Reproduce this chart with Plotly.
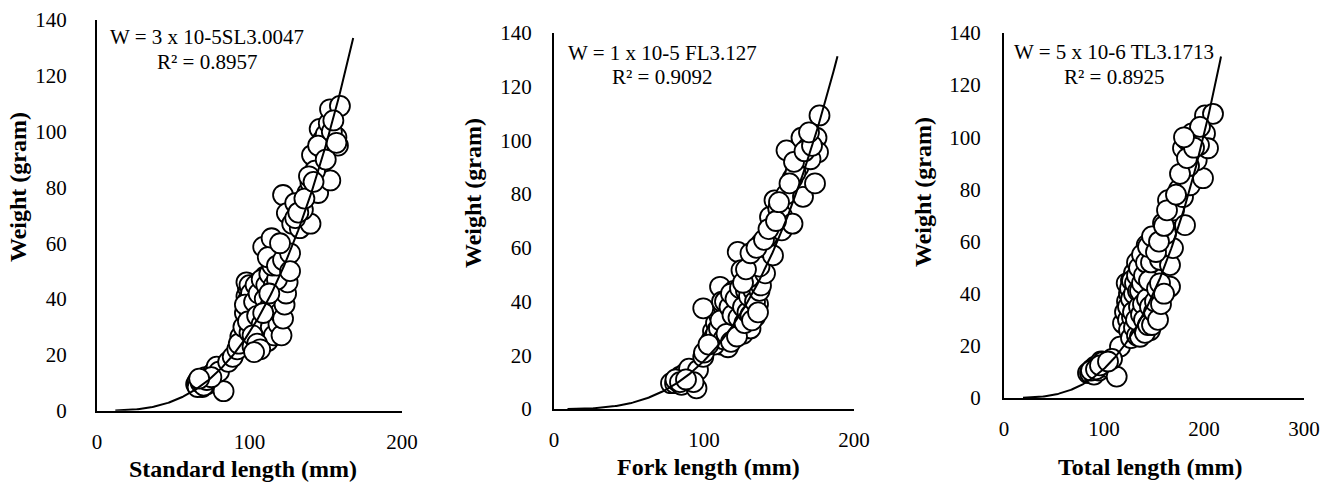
import numpy as np
import plotly.graph_objects as go

# ---------------- data ----------------
sl_len = [65, 66, 67, 68, 69, 70, 71, 72, 73, 74, 76, 78.5, 83, 80, 66, 68, 70, 72, 75, 67,
          86, 89, 92, 94, 93,
          96, 97, 98, 99, 99, 100, 100, 101, 102, 102, 103, 104, 104, 105, 106, 106, 107, 108,
          109, 109, 110, 110, 111, 112, 112, 113, 114, 115, 115.5, 116, 117, 117, 118, 119,
          120, 121, 122, 123, 124,
          98, 100, 101, 97, 99, 103, 104, 105, 106, 107, 108, 108, 110, 111, 111, 112, 113,
          114, 114, 116, 116, 118, 119, 120, 121, 122, 123, 124, 125, 118, 102, 105, 107, 103,
          109, 113, 115, 117, 119,
          109, 114.5, 112, 118, 122, 126.6, 126.6, 120,
          122, 124.5, 130, 128, 133, 140, 135, 138, 140, 145, 147.5, 153, 144, 141, 146, 148,
          150, 152, 155, 156, 158, 157, 152.8, 159.3, 149, 143,
          130, 132, 136, 139, 142, 145, 150, 154, 157, 155]
sl_wt = [9.5, 10.5, 9, 11, 8.5, 10, 12, 9.5, 11, 10.5, 13.4, 15.8, 7, 14, 8.5, 10, 9, 11, 12, 11.5,
         17.5, 19.3, 22, 26.5, 24,
         30, 35, 41, 44, 39.6, 33, 28, 37, 23, 31, 43, 26, 36, 40, 29, 46, 33, 38,
         24, 44, 31, 48, 27, 36, 42, 29, 46, 33, 33, 38, 42, 50, 29, 36,
         42.5, 47, 40, 45, 50,
         46, 45, 42, 38, 32, 39, 45, 34, 42, 27, 47, 31, 40, 35, 45, 25, 49,
         38, 30, 27, 45, 40, 31, 35, 27, 33, 38, 42, 46, 47, 27, 24, 22, 21,
         35, 42, 52, 56, 54,
         58.7, 61.8, 55, 52, 54, 56.4, 50, 60,
         77.3, 70.8, 74.4, 67, 65.4, 67, 72, 78, 81.6, 78, 84, 82.5, 88, 91.6, 101, 97,
         99, 103, 96, 96, 95, 98, 108, 109.2, 93, 86,
         69, 71, 76, 84, 82, 95, 90, 100, 96, 104]

fl_len = [78, 80.7, 82, 83, 84, 85, 86, 87.5, 89, 90, 95, 96, 99.5, 93, 81, 84, 88,
          105, 106, 107, 108, 109, 110, 110.7, 111, 112, 113, 114, 115, 116, 116, 117, 118,
          119, 120, 120, 121, 122, 123, 124, 125, 125, 126, 127, 128, 129, 130, 131, 132,
          133, 134, 135, 136, 99.5, 112,
          107, 108, 110, 111, 113, 114, 115, 117, 118, 118, 119, 121, 122, 123, 124, 126,
          127, 128, 129, 130, 131, 132, 133, 134, 136, 137, 138, 100, 103,
          122.5, 125, 130, 133, 138, 140.7, 137, 146, 142, 144, 147, 149.5, 151.8, 152, 159,
          155, 159, 163, 155, 165, 166, 169.5, 174, 175, 176, 177, 171, 161,
          126, 128, 131, 135, 140, 143, 148, 150, 157, 160, 167, 172, 170]
fl_wt = [9.6, 9.6, 11, 10, 12, 9, 11.5, 13.3, 12, 15, 7.7, 14.5, 19.4, 10, 11, 10, 11,
         25.7, 29, 27, 32, 29.4, 35, 45.5, 24, 31, 38, 27, 34, 23, 41, 30, 36,
         26, 44, 33, 29, 39, 42, 31, 43.6, 36, 28, 40, 33, 45, 37, 30, 41,
         38, 34.3, 42.4, 39, 37.5, 40,
         24, 28, 30, 33, 26, 40, 28, 38, 43, 25, 35, 41, 27, 34, 45, 38,
         32, 44, 36, 42, 35, 33, 44, 40, 36, 44, 46, 21, 24,
         58.5, 51.7, 49, 55, 61.6, 50.5, 53, 57.2, 64, 71.5, 77.7, 74.6, 66.5, 72, 69,
         80, 85.8, 90, 96.3, 101, 79, 97.5, 84, 101, 95.6, 109.3, 93, 88,
         47, 52, 58, 60, 63, 67, 70, 77, 84, 92, 96, 98, 103]

tl_len = [84, 86, 88, 90, 91, 93, 95, 97, 99, 101, 112.7, 116, 108, 87, 92, 96, 104,
          119, 122.7, 121, 123, 124, 125, 125, 126, 127, 127, 128, 129, 130, 130, 131, 132,
          133, 133, 134, 135, 136, 136, 137, 138, 139, 139, 140, 141, 142, 143, 144, 145,
          146, 147, 148, 149, 150, 152.7, 151, 155, 158, 166, 142.7, 149, 145,
          124, 126, 127, 128, 129, 130, 131, 132, 133, 134, 135, 135, 136, 137, 138, 138,
          139, 140, 140, 141, 142, 143, 144, 145, 146, 147, 148, 150, 151, 153, 154, 156,
          157, 160,
          156, 166, 169, 159, 162, 164, 167.7, 170, 181, 179, 175, 186, 199, 179, 182.7,
          188, 192.7, 185, 201, 204, 201, 209, 195,
          144, 148, 152, 155, 160, 163, 172, 176, 183, 190, 196, 180]
tl_wt = [9.6, 9.6, 11, 9, 12, 12, 10.5, 14, 13.9, 12, 8.2, 19.7, 15, 10.5, 11, 12.5, 14,
         28.7, 44, 33, 37, 30, 26, 40, 35, 23, 45, 31, 38, 27, 48, 34, 42,
         24, 52, 36, 30, 23.5, 46, 39, 33, 27, 50, 42, 36, 29, 47, 40, 33,
         26, 44, 37, 30, 40, 34.4, 46, 38, 42, 42.7, 58.6, 59.4, 54,
         35, 42, 38, 45, 33, 40, 44, 30, 47, 41, 35, 50, 41, 32, 44, 55,
         36, 47, 30, 25, 52, 38, 28, 45, 35, 52, 28, 33, 37, 42, 30, 44,
         36, 40,
         53, 51, 57.5, 67, 63, 75.9, 70.8, 72, 66.3, 77.1, 80, 81.6, 84.3, 95.8, 99,
         101.5, 91.2, 89, 101.5, 95.8, 108.4, 109, 97,
         58, 62, 56, 60, 66, 72, 78, 86, 92, 96, 104, 100]

# fitted power curves W = a * L^b (as drawn), length span of each trendline
fit_a = [2.75e-5, 1e-5, 5.1e-6]
fit_b = [3.0047, 3.127, 3.1713]
fit_span = [(12, 168), (9, 189), (19, 217)]

eq_line1 = ["W = 3 x 10-5SL3.0047", "W = 1 x 10-5 FL3.127", "W = 5 x 10-6 TL3.1713"]
eq_line2 = ["R² = 0.8957", "R² = 0.9092", "R² = 0.8925"]
x_titles = ["Standard length (mm)", "Fork length (mm)", "Total length (mm)"]
y_title = "Weight (gram)"
x_ranges = [(0, 200), (0, 200), (0, 300)]
y_range = (0, 140)

# ---------------- layout geometry (window pixels) ----------------
W_PX, H_PX = 1335, 486
boxes = [(97, 402, 410.7, 20), (554, 854, 409, 33), (1004, 1304, 398, 33)]
eq_x = [207, 662, 1114]
eq_y1 = [37, 53, 52]
eq_y2 = [62, 77, 77]
xtitle_pos = [(243, 469), (708, 467), (1150, 467)]
ytitle_x = [18, 473, 923]
ytitle_y = [187, 193, 192]
ylab_std = [24, 16, 17]

SERIF = "Liberation Serif, Times New Roman, serif"


def fx(x):
    return x / W_PX


def fy(y):
    return 1 - y / H_PX


fig = go.Figure()
data = [(sl_len, sl_wt), (fl_len, fl_wt), (tl_len, tl_wt)]

for i, (xs, ys) in enumerate(data):
    xa = "x" if i == 0 else f"x{i+1}"
    ya = "y" if i == 0 else f"y{i+1}"
    fig.add_trace(go.Scatter(
        x=xs, y=ys, mode="markers", xaxis=xa, yaxis=ya,
        marker=dict(size=20, color="white", line=dict(color="black", width=1.8)),
        showlegend=False, hoverinfo="x+y"))
    lx = np.linspace(fit_span[i][0], fit_span[i][1], 200)
    ly = fit_a[i] * lx ** fit_b[i]
    fig.add_trace(go.Scatter(
        x=lx, y=ly, mode="lines", xaxis=xa, yaxis=ya,
        line=dict(color="black", width=2), showlegend=False, hoverinfo="skip"))

layout = dict(width=W_PX, height=H_PX, margin=dict(l=0, r=0, t=0, b=0, autoexpand=False),
              paper_bgcolor="white", plot_bgcolor="white",
              font=dict(family=SERIF, color="black", size=21))

annotations = []
for i, (x0, x1, yb, yt) in enumerate(boxes):
    sx = "" if i == 0 else str(i + 1)
    layout["xaxis" + sx] = dict(
        domain=[fx(x0), fx(x1)], range=list(x_ranges[i]), anchor="y" + sx,
        automargin=False, showgrid=False, zeroline=False, showline=True,
        linecolor="black", linewidth=2, ticks="", dtick=100,
        tickfont=dict(family=SERIF, size=21, color="black"),
        ticklabelstandoff=11, fixedrange=True)
    layout["yaxis" + sx] = dict(
        domain=[fy(yb), fy(yt)], range=list(y_range), anchor="x" + sx,
        automargin=False, showgrid=False, zeroline=False, showline=True,
        linecolor="black", linewidth=2, ticks="", dtick=20,
        tickfont=dict(family=SERIF, size=21, color="black"),
        ticklabelstandoff=ylab_std[i], fixedrange=True)
    annotations.append(dict(text=eq_line1[i], xref="paper", yref="paper",
                            x=fx(eq_x[i]), y=fy(eq_y1[i]),
                            xanchor="center", yanchor="middle", showarrow=False,
                            font=dict(family=SERIF, size=21, color="black")))
    annotations.append(dict(text=eq_line2[i], xref="paper", yref="paper",
                            x=fx(eq_x[i]), y=fy(eq_y2[i]),
                            xanchor="center", yanchor="middle", showarrow=False,
                            font=dict(family=SERIF, size=21, color="black")))
    annotations.append(dict(text="<b>" + x_titles[i] + "</b>", xref="paper", yref="paper",
                            x=fx(xtitle_pos[i][0]), y=fy(xtitle_pos[i][1]),
                            xanchor="center", yanchor="middle", showarrow=False,
                            font=dict(family=SERIF, size=24, color="black")))
    annotations.append(dict(text="<b>" + y_title + "</b>", xref="paper", yref="paper",
                            x=fx(ytitle_x[i]), y=fy(ytitle_y[i]),
                            xanchor="center", yanchor="middle", showarrow=False,
                            textangle=-90,
                            font=dict(family=SERIF, size=24, color="black")))
layout["annotations"] = annotations
fig.update_layout(**layout)

# the page's default <body> margin would shift the figure by 8px; remove it
fig.write_html("out.html",
               config={"displayModeBar": False},
               post_script="document.body.style.margin='0';document.body.style.overflow='hidden';")
